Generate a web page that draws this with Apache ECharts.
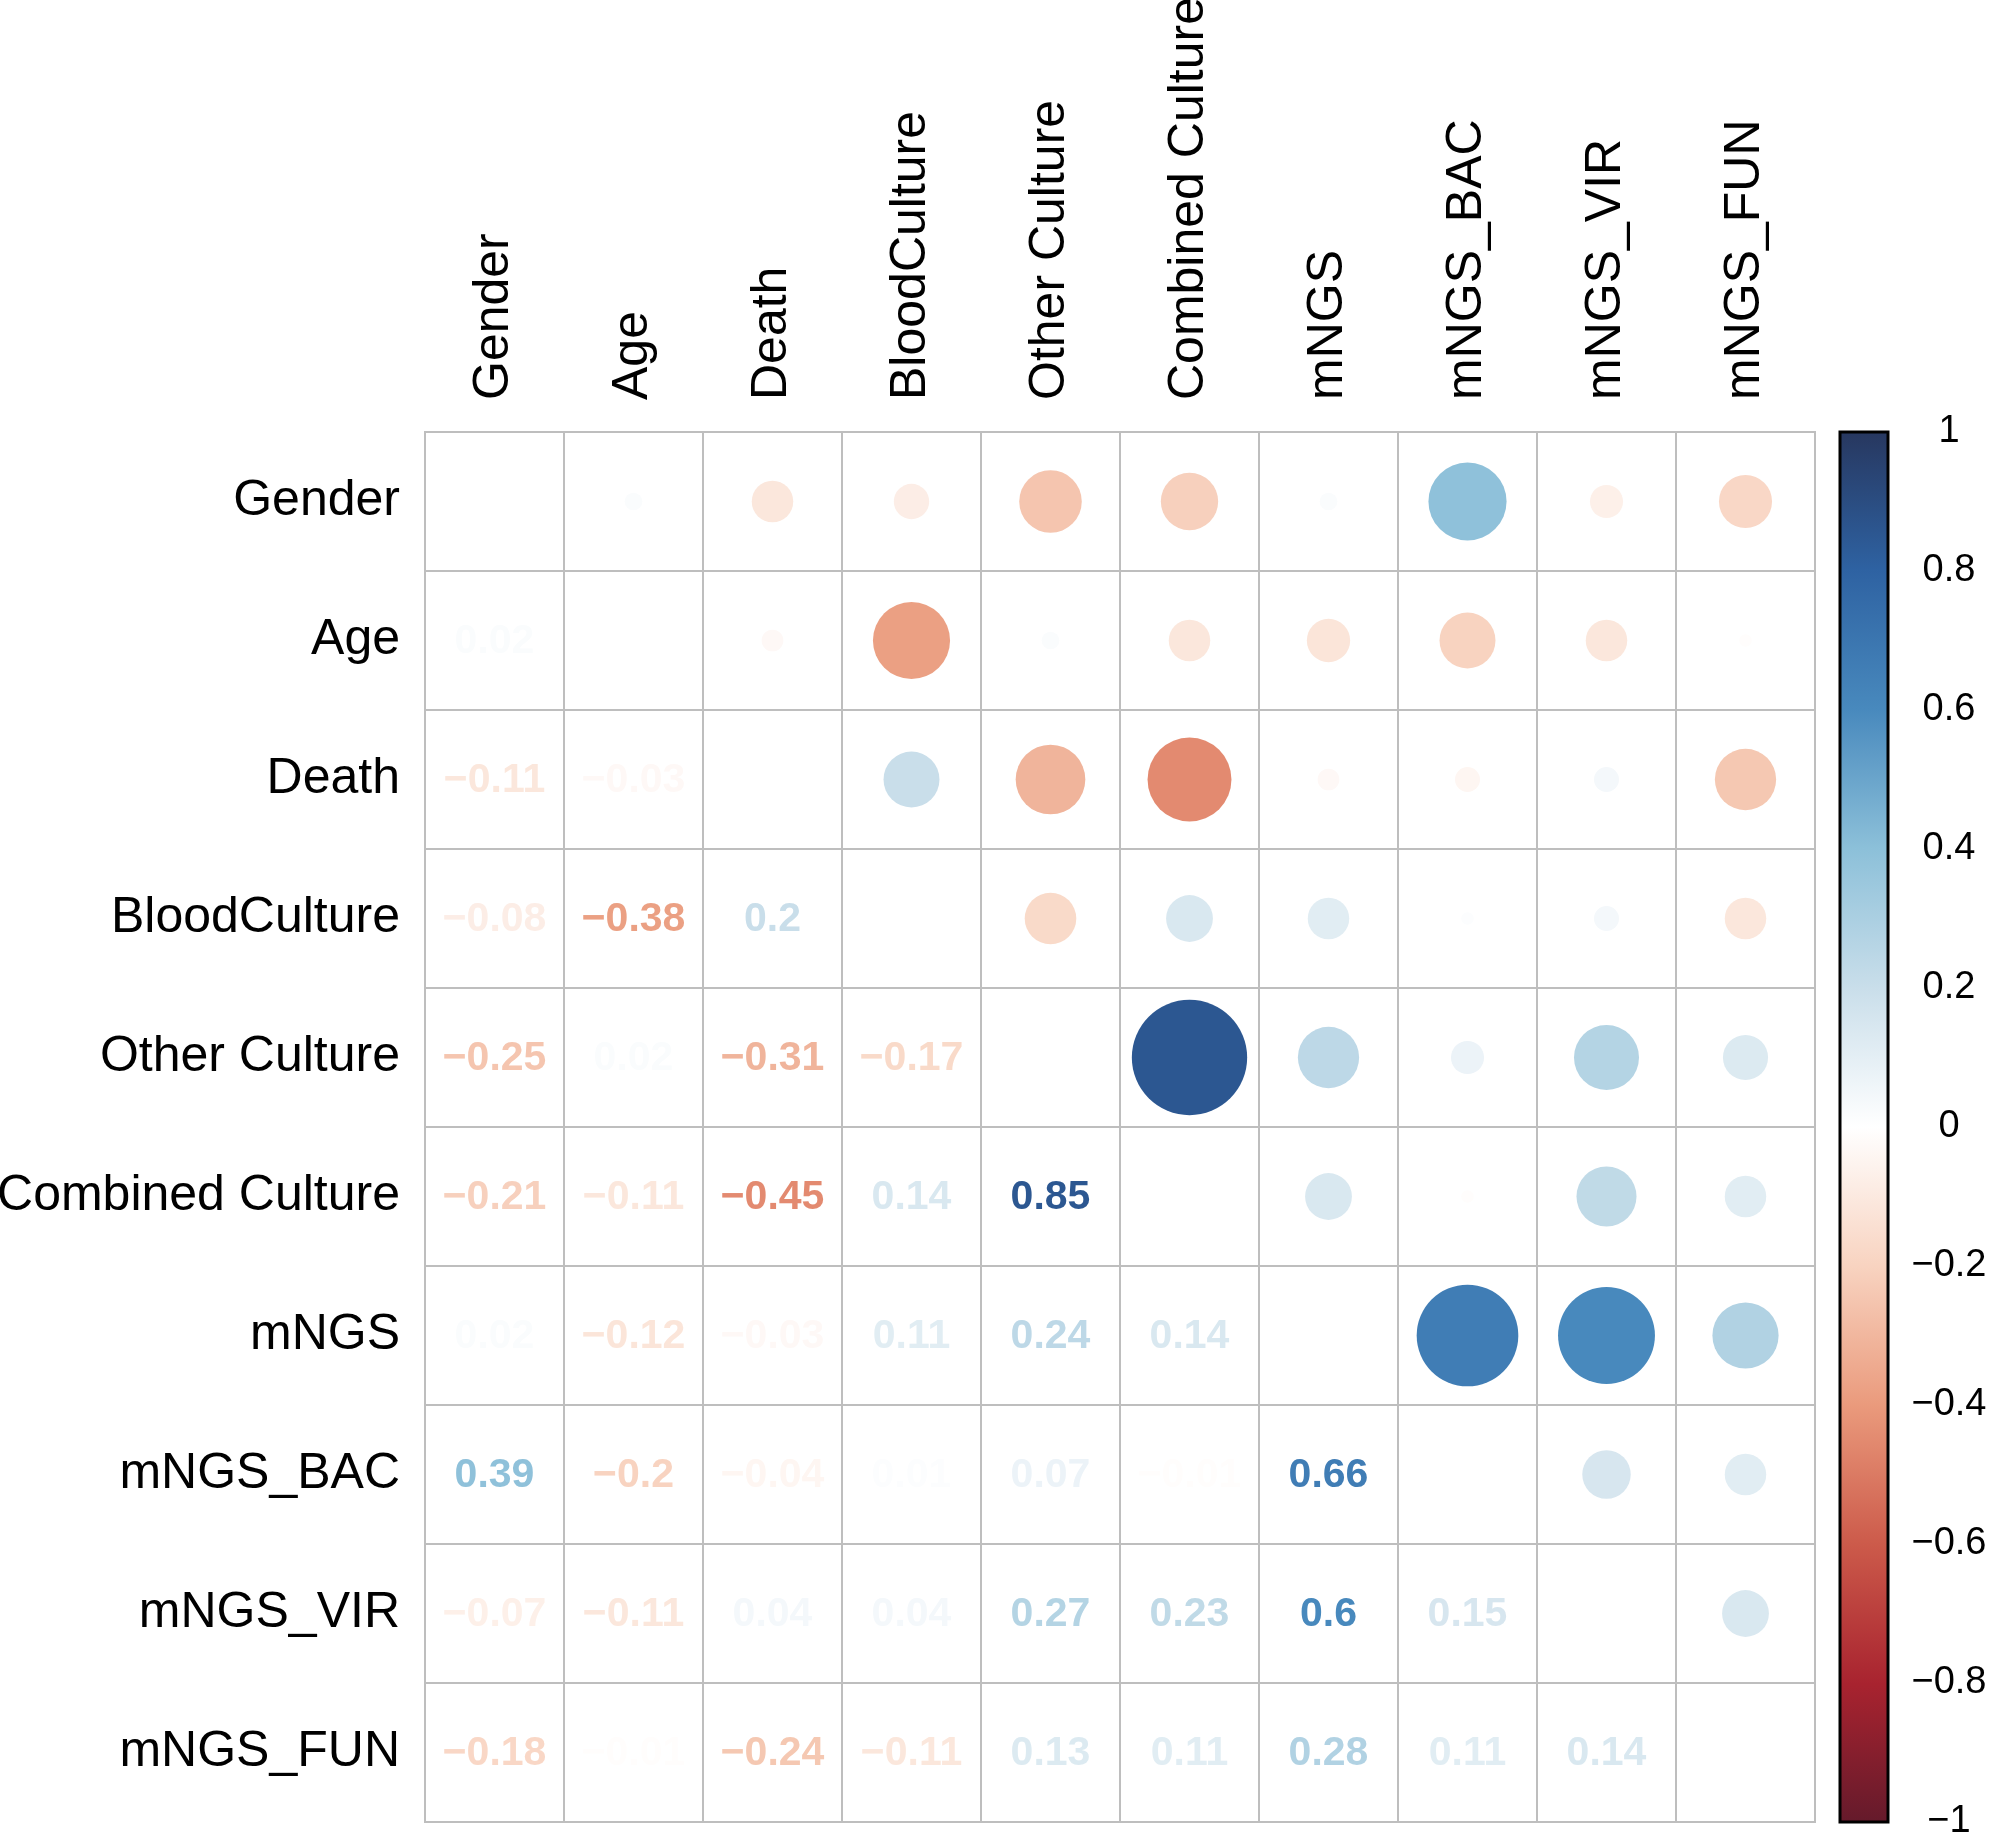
<!DOCTYPE html>
<html>
<head>
<meta charset="utf-8">
<script src="https://cdn.jsdelivr.net/npm/echarts@6/dist/echarts.min.js"></script>
<style>
html,body{margin:0;padding:0;background:#fff;}
#chart{width:1992px;height:1840px;}
</style>
</head>
<body>
<div id="chart"></div>
<script>
// Variable names (rows top→bottom, columns left→right)
const categories = ['Gender','Age','Death','BloodCulture','Other Culture','Combined Culture','mNGS','mNGS_BAC','mNGS_VIR','mNGS_FUN'];

// Lower-triangle correlations: row i vs. columns 0..i-1
const row_Age      = [0.02];
const row_Death    = [-0.11, -0.03];
const row_Blood    = [-0.08, -0.38, 0.2];
const row_Other    = [-0.25, 0.02, -0.31, -0.17];
const row_Combined = [-0.21, -0.11, -0.45, 0.14, 0.85];
const row_mNGS     = [0.02, -0.12, -0.03, 0.11, 0.24, 0.14];
const row_BAC      = [0.39, -0.2, -0.04, 0.01, 0.07, -0.01, 0.66];
const row_VIR      = [-0.07, -0.11, 0.04, 0.04, 0.27, 0.23, 0.6, 0.15];
const row_FUN      = [-0.18, -0.01, -0.24, -0.11, 0.13, 0.11, 0.28, 0.11, 0.14];

// Colour bar tick labels
const colorbarTicks = [-1, -0.8, -0.6, -0.4, -0.2, 0, 0.2, 0.4, 0.6, 0.8, 1];

// RdBu-like palette as it appears in the picture, from -1 to 1
const palette = ['#641A2B','#A8232F','#CC5A4A','#EA9A7C','#F8D3C0','#FFFFFF','#C9DEEA','#8CC0D9','#4889BD','#2E62A2','#27375F'];

const lowerRows = [[], row_Age, row_Death, row_Blood, row_Other, row_Combined, row_mNGS, row_BAC, row_VIR, row_FUN];

function hexToRgb(h){return [parseInt(h.slice(1,3),16),parseInt(h.slice(3,5),16),parseInt(h.slice(5,7),16)];}
function colorFor(v){
  const t = (v + 1) / 2 * (palette.length - 1);
  const i = Math.min(Math.floor(t), palette.length - 2);
  const f = t - i;
  const a = hexToRgb(palette[i]), b = hexToRgb(palette[i+1]);
  const c = a.map((x, k) => Math.round(x + (b[k] - x) * f));
  return 'rgb(' + c.join(',') + ')';
}
function fmt(v){ return String(v).replace('-', '\u2212'); }

// Build data: lower = numbers, upper = circles (symmetric)
const numberData = [];
const circleData = [];
lowerRows.forEach((vals, r) => {
  vals.forEach((v, c) => {
    numberData.push({value: [c, r, v]});
    circleData.push({value: [r, c, v], itemStyle: {color: colorFor(v), opacity: 1}});
  });
});

const CELL = 139;
const FONT = '"Liberation Sans", Arial, Helvetica, sans-serif';

const chart = echarts.init(document.getElementById('chart'), null, {renderer: 'canvas'});
const option = {
  backgroundColor: '#ffffff',
  animation: false,
  grid: [
    {left: 425, top: 432, width: 1390, height: 1390, outerBoundsMode: 'none', containLabel: false,
     show: true, borderColor: '#bebebe', borderWidth: 2, backgroundColor: 'transparent'},
    {left: 1840, top: 432, width: 48, height: 1390, outerBoundsMode: 'none', containLabel: false}
  ],
  xAxis: [
    {
      gridIndex: 0, type: 'category', data: categories, position: 'top',
      axisLine: {show: false}, axisTick: {show: false},
      axisLabel: {rotate: -90, interval: 0, margin: 32, fontSize: 50, color: '#000', fontFamily: FONT, hideOverlap: false},
      splitLine: {show: true, interval: 0, lineStyle: {color: '#bebebe', width: 2}}
    },
    {gridIndex: 1, type: 'value', min: 0, max: 1, show: false}
  ],
  yAxis: [
    {
      gridIndex: 0, type: 'category', data: categories, inverse: true,
      axisLine: {show: false}, axisTick: {show: false},
      axisLabel: {interval: 0, margin: 25, fontSize: 50, color: '#000', fontFamily: FONT},
      splitLine: {show: true, interval: 0, lineStyle: {color: '#bebebe', width: 2}}
    },
    {
      gridIndex: 1, type: 'value', min: -1, max: 1, interval: 0.2, position: 'right',
      axisLine: {show: false},
      axisTick: {show: true, length: 11, lineStyle: {color: '#000', width: 2}},
      splitLine: {show: false},
      axisLabel: {
        margin: 61, align: 'center', fontSize: 38, color: '#000', fontFamily: FONT,
        formatter: function(v){
          const r = Math.round(v * 10) / 10;
          return colorbarTicks.indexOf(r) >= 0 ? fmt(r) : '';
        }
      }
    }
  ],
  series: [
    {
      type: 'scatter', xAxisIndex: 0, yAxisIndex: 0,
      data: circleData,
      symbol: 'circle',
      symbolSize: function(d){ return 0.9 * CELL * Math.sqrt(Math.abs(d[2])); },
      itemStyle: {opacity: 1},
      silent: true
    },
    {
      type: 'custom', xAxisIndex: 0, yAxisIndex: 0,
      data: numberData,
      renderItem: function(params, api){
        const v = api.value(2);
        const p = api.coord([api.value(0), api.value(1)]);
        return {
          type: 'text',
          style: {
            text: fmt(v), x: p[0], y: p[1] + 1,
            fill: colorFor(v),
            font: 'bold 41px ' + FONT,
            textAlign: 'center', textVerticalAlign: 'middle'
          }
        };
      },
      silent: true
    },
    {
      type: 'custom', xAxisIndex: 1, yAxisIndex: 1,
      data: [[0, -1, 1]],
      renderItem: function(params, api){
        const tl = api.coord([0, 1]);
        const br = api.coord([1, -1]);
        const stops = palette.map((c, i) => ({offset: 1 - i / (palette.length - 1), color: c})).reverse();
        return {
          type: 'rect',
          shape: {x: tl[0], y: tl[1], width: br[0] - tl[0], height: br[1] - tl[1]},
          style: {
            fill: new echarts.graphic.LinearGradient(0, 0, 0, 1, stops),
            stroke: '#000', lineWidth: 3
          }
        };
      },
      silent: true
    }
  ]
};
chart.setOption(option);
</script>
</body>
</html>
